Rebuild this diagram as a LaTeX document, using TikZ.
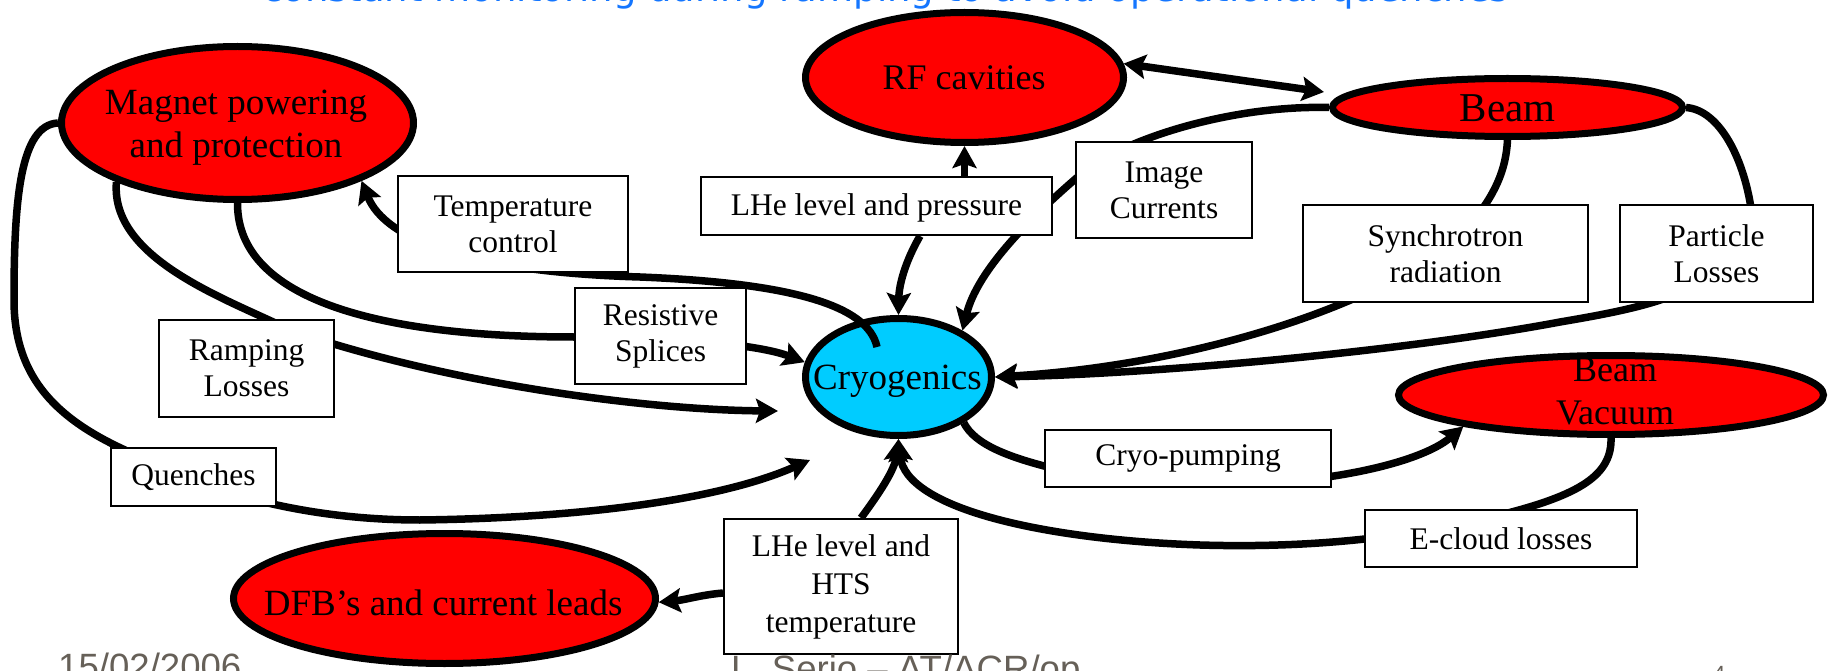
\documentclass[tikz,border=0pt]{standalone}
\usepackage{fontspec}
\setmainfont{Liberation Serif}
\newfontfamily\titlefont{DejaVu Sans}
\newfontfamily\footfont{Liberation Sans}
\usetikzlibrary{shapes.geometric,arrows.meta,calc}
\definecolor{elred}{RGB}{255,0,0}
\definecolor{cryoblue}{RGB}{0,204,255}
\definecolor{titleblue}{RGB}{20,118,255}
\definecolor{footgray}{RGB}{102,96,88}
\begin{document}
\begin{tikzpicture}[x=1pt,y=-1pt,
  ell/.style={ellipse, draw=black, line width=7pt, fill=elred, inner sep=0pt},
  etext/.style={align=center, inner sep=0pt},
  bx/.style={rectangle, draw=black, line width=2pt, fill=white, inner sep=0pt, align=center, font=\fontsize{31.5}{36}\selectfont},
  con/.style={draw=black, line width=7.5pt},
  arr/.style={-{Stealth[length=22pt,width=24pt,inset=4pt]}},
  darr/.style={{Stealth[length=22pt,width=24pt,inset=4pt]}-{Stealth[length=22pt,width=24pt,inset=4pt]}}
]
\useasboundingbox (0,0) rectangle (1829,671);
\clip (0,0) rectangle (1829,671);

% ellipses
\node[ell, minimum width=352pt, minimum height=153pt] (magnet) at (237.5,123) {};
\node[ell, minimum width=318pt, minimum height=130pt] (rf) at (964.5,77.5) {};
\node[ell, minimum width=350pt, minimum height=58pt] (beam) at (1507.5,107.5) {};
\node[ell, minimum width=425pt, minimum height=79pt] (bvac) at (1611,395) {};
\node[ell, fill=cryoblue, minimum width=186pt, minimum height=117pt] (cryo) at (898.5,377) {};
\node[ell, minimum width=422pt, minimum height=130pt] (dfb) at (444.5,598.5) {};

% free ends
\coordinate (tcend) at (877,347);
\coordinate (rampend) at (778,411);
\coordinate (quenchend) at (810,460);
\coordinate (rfbeamend) at (1324,92);

% connectors
\draw[con, arr] (tcend) .. controls (868,305) and (790,283) .. (640,277)
   .. controls (470,272) and (385,240) .. (magnet.-25);
\draw[con, arr] (magnet.south) .. controls (237,300) and (380,337) .. (574,337)
   .. controls (680,337) and (760,345) .. (cryo.171);
\draw[con, arr] (magnet.206) .. controls (110,260) and (230,300) .. (290,330)
   .. controls (450,385) and (650,410) .. (rampend);
\draw[con, arr] (magnet.west) .. controls (20,125) and (14,200) .. (14,300)
   .. controls (14,380) and (60,420) .. (125,450)
   .. controls (200,490) and (300,520) .. (420,520)
   .. controls (580,518) and (720,500) .. (quenchend);
\draw[con, arr] (rf.south |- 0,176) -- (rf.south);
\draw[con, arr] (920,236) .. controls (905,262) and (899,285) .. (cryo.north);
\draw[con, arr] (beam.west) .. controls (1230,105) and (1120,140) .. (1080,175)
   .. controls (1010,235) and (975,280) .. (cryo.36);
\draw[con, darr] (rf.5) -- (rfbeamend);
\draw[con, arr] (beam.south) .. controls (1506,170) and (1495,195) .. (1470,225)
   .. controls (1400,300) and (1200,365) .. (cryo.east);
\draw[con, arr] (beam.east) .. controls (1720,110) and (1745,160) .. (1752,215)
   .. controls (1730,290) and (1660,305) .. (1560,322)
   .. controls (1400,352) and (1150,374) .. (cryo.east);
\draw[con, arr] (cryo.-35) .. controls (975,445) and (1010,458) .. (1060,470)
   -- (1320,478) .. controls (1380,470) and (1430,455) .. (bvac.192);
\draw[con, arr] (bvac.south) .. controls (1612,475) and (1580,495) .. (1500,515)
   .. controls (1400,540) and (1300,548) .. (1200,545)
   .. controls (1050,540) and (905,510) .. (cryo.south);
\draw[con, arr] (723,593) .. controls (700,595) and (685,600) .. (dfb.-1);
\draw[con, arr] (861,518) .. controls (878,495) and (895,470) .. (cryo.south);

% boxes
\node[bx, minimum width=230pt, minimum height=96pt] (temp) at (513,224) {Temperature\\control};
\node[bx, minimum width=175pt, minimum height=97pt] (ramp) at (246.5,368.5) {Ramping\\Losses};
\node[bx, minimum width=171pt, minimum height=96pt] (resist) at (660.5,336) {Resistive\\Splices};
\node[bx, minimum width=351pt, minimum height=58pt, text height=22pt, text depth=2pt] (lhe1) at (876.5,206) {LHe level and pressure};
\node[bx, minimum width=176pt, minimum height=96pt] (image) at (1164,190) {Image\\Currents};
\node[bx, minimum width=285pt, minimum height=97pt] (synch) at (1445.5,253.5) {Synchrotron\\radiation};
\node[bx, minimum width=193pt, minimum height=97pt] (part) at (1716.5,253.5) {Particle\\Losses};
\node[bx, minimum width=165pt, minimum height=58pt] (quench) at (193.5,477) {Quenches};
\node[bx, minimum width=234pt, minimum height=135pt, font=\fontsize{31.5}{38}\selectfont] (lhe2) at (841,586.5) {LHe level and\\HTS\\temperature};
\node[bx, minimum width=286pt, minimum height=57pt] (pump) at (1188,458.5) {Cryo-pumping};
\node[bx, minimum width=272pt, minimum height=57pt] (ecloud) at (1501,538.5) {E-cloud losses};

% ellipse texts
\node[etext, font=\fontsize{37}{43}\selectfont] (magnettxt) at (236,128) {Magnet powering\\and protection};
\node[etext, font=\fontsize{36}{43}\selectfont] (rftxt) at (964,78) {RF cavities};
\node[etext, font=\fontsize{41}{48}\selectfont] (beamtxt) at (1507.5,108.4) {Beam};
\node[etext, font=\fontsize{36}{43}\selectfont] (bvactxt) at (1615,391.5) {Beam\\Vacuum};
\node[etext, font=\fontsize{37}{43}\selectfont] (cryotxt) at (897.5,381.4) {Cryogenics};
\node[etext, font=\fontsize{37}{43}\selectfont] (dfbtxt) at (443.2,602.4) {DFB’s and current leads};

% cut-off title and footer
\node[anchor=base, inner sep=0pt, text=titleblue, font=\titlefont\fontsize{37}{40}\selectfont] (title) at (885.5,2) {constant monitoring during ramping to avoid operational quenches};
\node[anchor=base west, inner sep=0pt, text=footgray, font=\footfont\fontsize{36.6}{40}\selectfont] (date) at (58,679) {15/02/2006};
\node[anchor=base west, inner sep=0pt, text=footgray, font=\footfont\fontsize{36.6}{40}\selectfont] (author) at (731,681) {L. Serio – AT/ACR/op};
\node[anchor=base west, inner sep=0pt, text=footgray, font=\footfont\fontsize{22}{24}\selectfont] (page) at (1713,681) {4};
\end{tikzpicture}
\end{document}
